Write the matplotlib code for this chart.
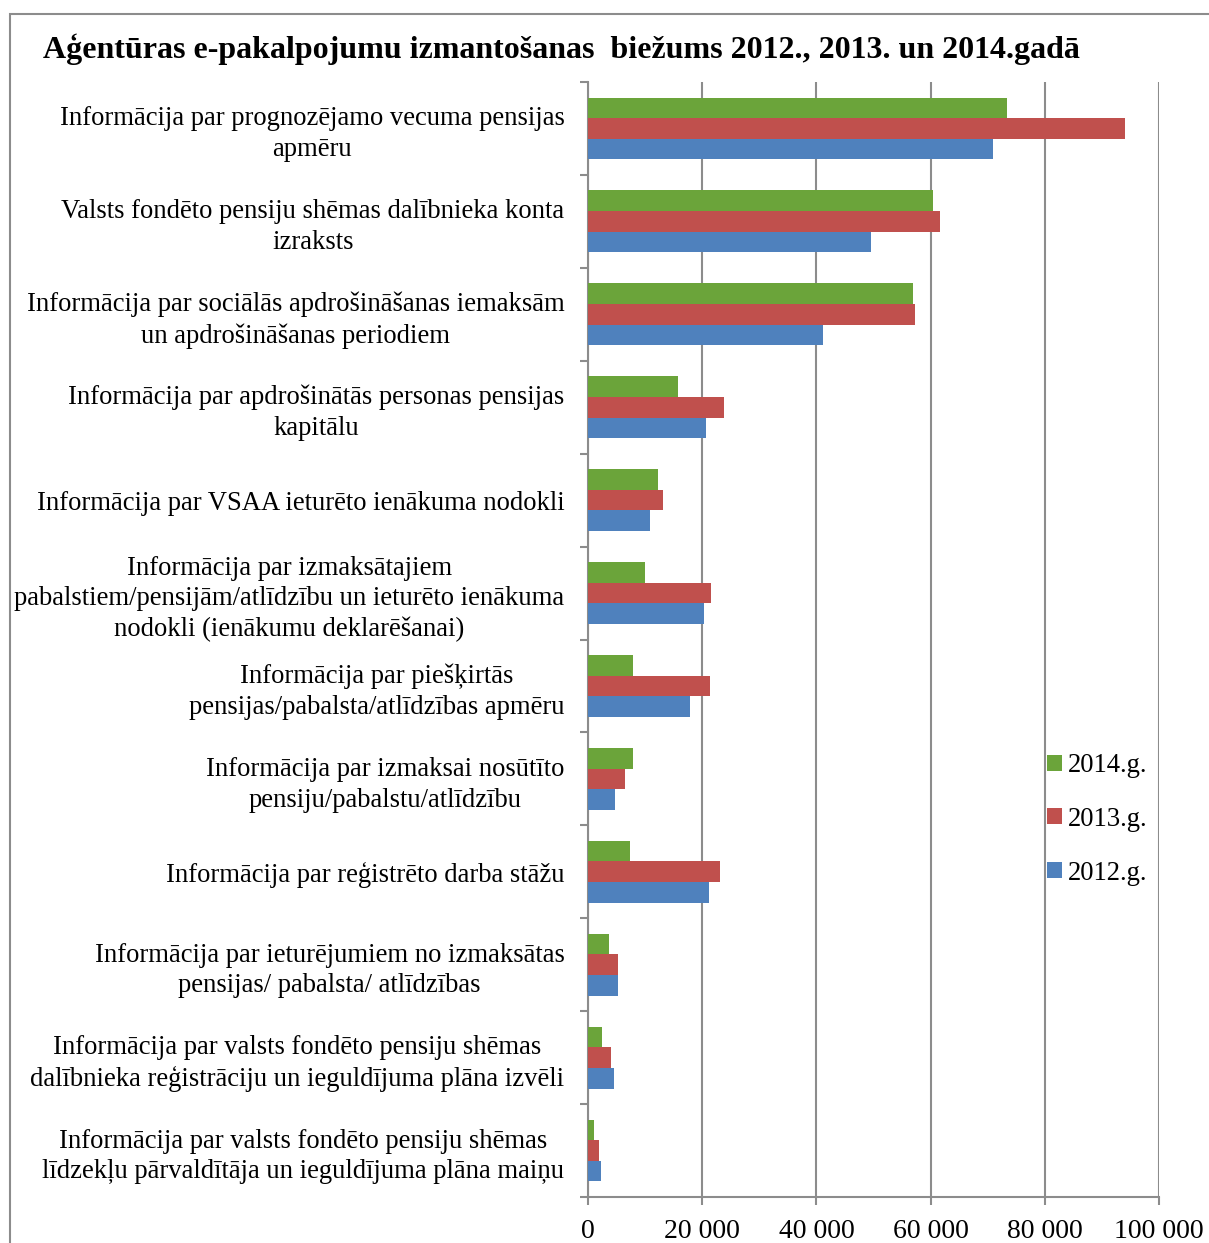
import numpy as np
import matplotlib
matplotlib.use("Agg")
import matplotlib.pyplot as plt
from matplotlib.patches import Rectangle

plt.rcParams['font.family'] = ['Liberation Serif', 'DejaVu Serif']

title = "Aģentūras e-pakalpojumu izmantošanas  biežums 2012., 2013. un 2014.gadā"

categories = [
    "Informācija par prognozējamo vecuma pensijas\napmēru",
    "Valsts fondēto pensiju shēmas dalībnieka konta\nizraksts",
    "Informācija par sociālās apdrošināšanas iemaksām\nun apdrošināšanas periodiem",
    "Informācija par apdrošinātās personas pensijas\nkapitālu",
    "Informācija par VSAA ieturēto ienākuma nodokli",
    "Informācija par izmaksātajiem\npabalstiem/pensijām/atlīdzību un ieturēto ienākuma\nnodokli (ienākumu deklarēšanai)",
    "Informācija par piešķirtās\npensijas/pabalsta/atlīdzības apmēru",
    "Informācija par izmaksai nosūtīto\npensiju/pabalstu/atlīdzību",
    "Informācija par reģistrēto darba stāžu",
    "Informācija par ieturējumiem no izmaksātas\npensijas/ pabalsta/ atlīdzības",
    "Informācija par valsts fondēto pensiju shēmas\ndalībnieka reģistrāciju un ieguldījuma plāna izvēli",
    "Informācija par valsts fondēto pensiju shēmas\nlīdzekļu pārvaldītāja un ieguldījuma plāna maiņu",
]

y2014 = [73300, 60500, 57000, 15700, 12300, 9900, 7900, 7800, 7300, 3600, 2400, 1100]
y2013 = [94100, 61600, 57300, 23800, 13100, 21500, 21300, 6400, 23100, 5300, 4000, 2000]
y2012 = [71000, 49500, 41200, 20700, 10900, 20400, 17800, 4700, 21200, 5200, 4500, 2300]

series_labels = ["2014.g.", "2013.g.", "2012.g."]
colors = ["#6BA43A", "#C0504D", "#4F81BD"]

W, H = 1209, 1243
fig = plt.figure(figsize=(W / 100, H / 100), dpi=100)

# outer frame
fig.patches.append(Rectangle((10 / W, -0.02), 1.05, 1 - 14 / H + 0.02,
                             transform=fig.transFigure, fill=False,
                             edgecolor="#8c8c8c", linewidth=1.5))

ax = fig.add_axes([588 / W, 1 - 1197 / H, (1159 - 588) / W, (1197 - 82) / H])

y = np.arange(len(categories))
h = 0.222
bars = []
for k, vals in enumerate([y2014, y2013, y2012]):
    b = ax.barh(y + (k - 1) * h, vals, height=h, color=colors[k],
                label=series_labels[k], zorder=3)
    bars.append(b)

ax.set_xlim(0, 100000)
ax.set_ylim(len(categories) - 0.5, -0.5)

ax.set_xticks(np.arange(0, 100001, 20000))
ax.set_xticklabels(["0", "20 000", "40 000", "60 000", "80 000", "100 000"],
                   fontsize=20)
ax.set_yticks(y)
ax.set_yticklabels(categories, fontsize=19.2, multialignment="center",
                   linespacing=1.3)
ax.set_yticks(np.arange(-0.5, len(categories)), minor=True)
ax.tick_params(axis="y", which="major", length=0, pad=17)
ax.tick_params(axis="y", which="minor", length=6, width=1.5, color="#8c8c8c")
ax.tick_params(axis="x", length=6, width=1.5, color="#8c8c8c", pad=10)

ax.grid(axis="x", color="#8c8c8c", linewidth=1.5, zorder=0)
for s in ["top", "right"]:
    ax.spines[s].set_visible(False)
for s in ["left", "bottom"]:
    ax.spines[s].set_color("#8c8c8c")
    ax.spines[s].set_linewidth(1.5)

fig.text(43 / W, 1 - 49 / H, title, fontsize=23, fontweight="bold",
         ha="left", va="center")

fig.legend(handles=bars, labels=series_labels, loc="upper left",
           bbox_to_anchor=(1023 / W, 1 - 729 / H), frameon=False,
           fontsize=19.2, handlelength=0.55, handleheight=0.55,
           handletextpad=0.25, labelspacing=1.08)

fig.savefig("out.png", dpi=100)
